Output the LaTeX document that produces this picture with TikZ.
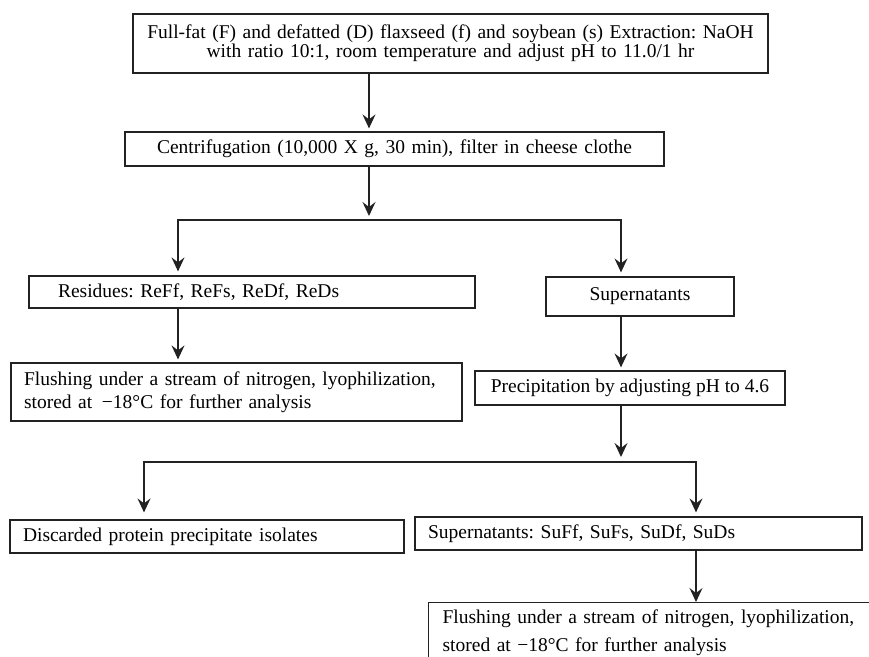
\documentclass[tikz,border=0pt]{standalone}
\usepackage{fontspec}
\setmainfont{Liberation Serif}
\usetikzlibrary{arrows.meta,calc}
\definecolor{ink}{HTML}{222222}
\frenchspacing
\tikzset{
  box/.style={draw=ink, line width=1.2pt, text=black, inner ysep=0pt, font=\fontsize{19.5}{19}\selectfont},
  arr/.style={draw=ink, line width=1.3pt, -{Stealth[length=14pt,width=13pt,inset=5pt]}},
  ln/.style={draw=ink, line width=1.3pt, line cap=rect},
}
\begin{document}
\begin{tikzpicture}[x=1pt,y=-1pt]
\useasboundingbox (0,0) rectangle (869,656);
\clip (0,0) rectangle (869,656);

\node[box, minimum width=635pt, minimum height=59pt, text width=615pt, inner xsep=10pt, align=center] (top) at (450.5,43.5)
  {Full-fat (F) and defatted (D) flaxseed (f) and soybean (s) Extraction: NaOH\\with ratio 10:1, room temperature and adjust pH to 11.0/1 hr};
\node[box, minimum width=539pt, minimum height=34pt, text width=519pt, inner xsep=10pt, align=center] (cent) at (394.5,149)
  {Centrifugation (10,000 X g, 30 min), filter in cheese clothe};
\node[box, minimum width=446pt, minimum height=32pt, text width=388pt, inner xsep=29pt, align=left] (res) at (252,292)
  {Residues: ReFf, ReFs, ReDf, ReDs};
\node[box, font=\fontsize{19.5}{23.5}\selectfont, minimum width=451pt, minimum height=58pt, text width=425pt, inner xsep=13pt, align=left] (fl1) at (236.5,392)
  {Flushing under a stream of nitrogen, lyophilization,\\stored at \,−18°C for further analysis};
\node[box, minimum width=188pt, minimum height=39pt, inner xsep=0pt] (sup) at (640,296.5) {Supernatants};
\node[box, minimum width=310pt, minimum height=34pt, inner xsep=0pt] (pre) at (630,388) {Precipitation by adjusting pH to 4.6};
\node[box, minimum width=394pt, minimum height=33pt, text width=368pt, inner xsep=13pt, align=left] (disc) at (207,536.5)
  {Discarded protein precipitate isolates};
\node[box, minimum width=447pt, minimum height=33pt, text width=421pt, inner xsep=13pt, align=left] (suff) at (638.5,533.5)
  {Supernatants: SuFf, SuFs, SuDf, SuDs};
\node[box, font=\fontsize{19.5}{28}\selectfont, anchor=north west, minimum width=500pt, text width=472pt, inner xsep=14pt, inner ysep=7.5pt, align=left] (fl2) at (428,602)
  {Flushing under a stream of nitrogen, lyophilization,\\stored at −18°C for further analysis};

\coordinate (xa) at (369,0);
\coordinate (j1) at (369,220);
\coordinate (j1l) at (178,220);
\coordinate (j1r) at (621,220);
\coordinate (j2) at (621,462);
\coordinate (j2l) at (144,462);
\coordinate (j2r) at (696,462);

\draw[arr, shorten >=3pt] (top.south -| xa) -- (cent.north -| xa);
\draw[arr, shorten >=4pt] (cent.south -| xa) -- (j1);
\draw[ln] (j1l) -- (j1r);
\draw[arr, shorten >=4pt] (j1l) -- (res.north -| j1l);
\draw[arr, shorten >=4pt] (j1r) -- (sup.north -| j1r);
\draw[arr, shorten >=3pt] (res.south -| j1l) -- (fl1.north -| j1l);
\draw[arr, shorten >=3pt] (sup.south -| j1r) -- (pre.north -| j1r);
\draw[arr, shorten >=5pt] (pre.south -| j2) -- (j2);
\draw[ln] (j2l) -- (j2r);
\draw[arr, shorten >=7pt] (j2l) -- (disc.north -| j2l);
\draw[arr, shorten >=4pt] (j2r) -- (suff.north -| j2r);
\draw[arr] (suff.south -| j2r) -- (fl2.north -| j2r);
\end{tikzpicture}
\end{document}
